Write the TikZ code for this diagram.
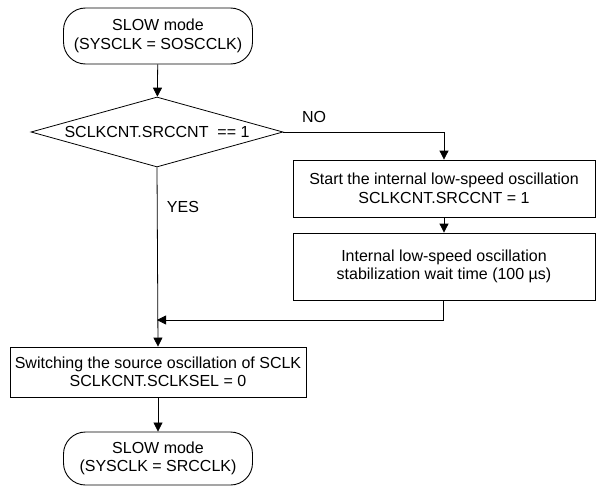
\documentclass[tikz,border=0pt]{standalone}
\usepackage{fontspec}
\setmainfont{Liberation Sans}
\usepackage{tikz}
\usetikzlibrary{arrows.meta, positioning, shapes.geometric}

\begin{document}
\begin{tikzpicture}[
    x=1pt, y=-1pt,
    every node/.style={font=\fontsize{16}{18.5}\selectfont},
    term/.style={draw, line width=0.9pt, rounded corners=22pt, minimum width=189pt, align=center, inner sep=0pt},
    proc/.style={draw, line width=0.8pt, align=center, inner sep=0pt},
    cond/.style={draw, line width=0.8pt, diamond, aspect=3.6, inner sep=0pt, minimum width=252pt, minimum height=70pt},
    flow/.style={line width=0.8pt, -{Triangle[length=9pt, width=9pt]}},
    tag/.style={inner sep=0pt}
]
\useasboundingbox (0,0) rectangle (596,487);

% Main column
\node[term, minimum height=56pt] (start) at (158,36) {SLOW mode\\(SYSCLK = SOSCCLK)};
\node[cond] (check) at (157,132) {SCLKCNT.SRCCNT\ \ == 1};
\node[proc, minimum width=296pt, minimum height=50pt] (switch) at (158,372) {Switching the source oscillation of SCLK\\SCLKCNT.SCLKSEL = 0};
\node[term, minimum height=53pt] (stop) at (158,458.5) {SLOW mode\\(SYSCLK = SRCCLK)};

% Right column (NO branch)
\node[proc, minimum width=302pt, minimum height=57pt] (osc) at (444,188.5) {Start the internal low-speed oscillation\\SCLKCNT.SRCCNT = 1};
\node[proc, minimum width=302pt, minimum height=67pt] (wait) at (444,266.5) {Internal low-speed oscillation\\stabilization wait time (100 µs)};

% Helper points
\coordinate (noturn) at (osc.north |- check.east);
\coordinate (backturn) at (443,320);
\coordinate (join) at (check.south |- backturn);

% Connectors
\draw[flow] (start) -- (check);
\draw[flow] (check.south) -- (switch.north);
\draw[flow] (switch) -- (stop);
\draw[flow] (check.east) -- (noturn) -- (osc.north);
\draw[flow] (osc) -- (wait);
\draw[flow] (wait.south -| backturn) -- (backturn) -- (join);

% Branch labels
\node[tag] (no) at (314,117) {NO};
\node[tag] (yes) at (183,207) {YES};
\end{tikzpicture}
\end{document}
